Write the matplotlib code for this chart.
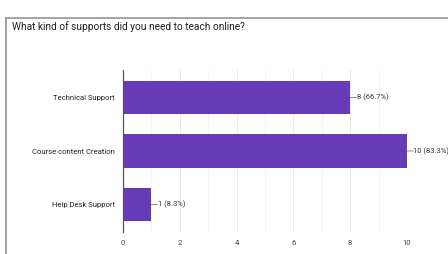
import matplotlib
matplotlib.use("Agg")
import matplotlib.pyplot as plt
from matplotlib.lines import Line2D

categories = ["Technical Support", "Course content Creation", "Help Desk Support"]
counts = [8, 10, 1]
labels = ["8 (66.7%)", "10 (83.3%)", "1 (8.3%)"]
title = "What kind of supports did you need to teach online?"
xticks = [0, 2, 4, 6, 8, 10]

plt.rcParams['font.family'] = ['Roboto', 'DejaVu Sans']

fig = plt.figure(figsize=(4.48, 2.54), dpi=100)
fig.patch.set_facecolor("white")

# card border
fig.add_artist(Line2D([6/448, 6/448], [0, 1 - 18/254], transform=fig.transFigure,
                      color="#8a8a8a", lw=1.1))
fig.add_artist(Line2D([6/448, 1], [1 - 18/254, 1 - 18/254], transform=fig.transFigure,
                      color="#8a8a8a", lw=1.1))

fig.text(12/448, 1 - 27/254, title, fontsize=7.3, color="#212121", va="center", ha="left")

ax = fig.add_axes([123/448, 22/254, (407 - 123)/448, 162/254])
ypos = list(range(len(categories)))
ax.barh(ypos, counts, height=0.62, color="#673AB7", zorder=3)
ax.set_xlim(0, 10)
ax.set_ylim(2.514, -0.514)
ax.set_yticks(ypos)
ax.set_yticklabels(categories, fontsize=5.5, color="#222222")
ax.set_xticks(xticks)
ax.set_xticklabels([str(t) for t in xticks], fontsize=5.6, color="#444444")
ax.set_xticks([1, 3, 5, 7, 9], minor=True)
ax.tick_params(axis="both", length=0, pad=6)
ax.tick_params(axis="x", which="minor", length=0)
ax.grid(axis="x", which="major", color="#e6e6e6", lw=0.6, zorder=0)
ax.grid(axis="x", which="minor", color="#f2f2f2", lw=0.6, zorder=0)
for s in ["top", "right", "bottom"]:
    ax.spines[s].set_visible(False)
ax.spines["left"].set_color("#555555")
ax.spines["left"].set_linewidth(0.9)
ax.spines["left"].set_zorder(4)

for y, c, lab in zip(ypos, counts, labels):
    ax.annotate(lab, xy=(c, y), xytext=(4.6, 0), textcoords="offset points",
                fontsize=5.5, color="#333333", va="center", ha="left",
                annotation_clip=False)
    ax.annotate("", xy=(c, y), xytext=(4.4, 0), textcoords="offset points",
                arrowprops=dict(arrowstyle="-", color="#777777", lw=0.6,
                                shrinkA=0, shrinkB=0),
                annotation_clip=False)

fig.savefig("out.png", dpi=100)
